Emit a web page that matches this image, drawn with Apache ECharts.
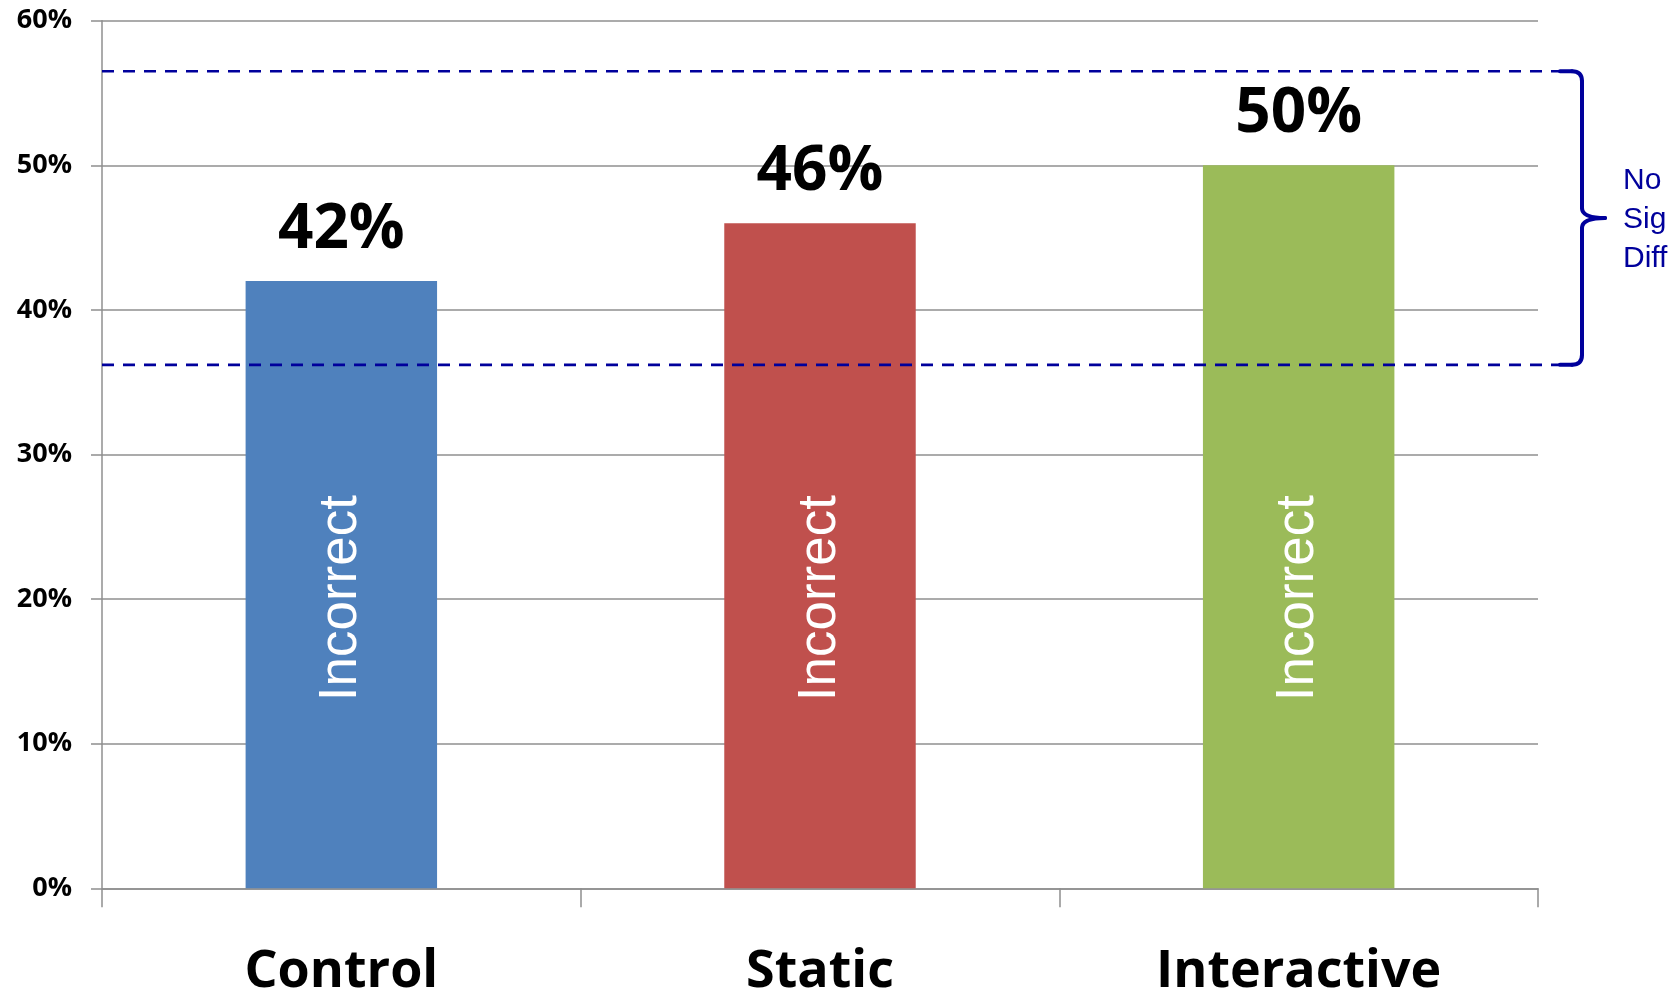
<!DOCTYPE html>
<html>
<head>
<meta charset="utf-8">
<script src="https://cdn.jsdelivr.net/npm/echarts@6/dist/echarts.min.js"></script>
<style>
  html, body { margin: 0; padding: 0; background: #ffffff; }
  #chart { width: 1678px; height: 994px; }
</style>
</head>
<body>
<div id="chart"></div>
<script>
// ---- data ----
const categories = ['Control', 'Static', 'Interactive'];
const values = [42, 46, 50];
const barText = 'Incorrect';
const sigRange = [36.2, 56.5];          // dashed band limits (%)
const sigText = ['No', 'Sig', 'Diff'];
const yMin = 0, yMax = 60, yStep = 10;

// ---- styles ----
const barColors = ['#4F81BD', '#C0504D', '#9BBB59'];
const gridColor = '#8f8f8f';
const annoColor = '#00009c';

const chart = echarts.init(document.getElementById('chart'), null, { renderer: 'canvas' });

const gridLeft = 102, gridRight = 140, gridTop = 20.7, gridBottom = 105.7;

chart.setOption({
  animation: false,
  backgroundColor: '#ffffff',
  grid: {
    left: gridLeft, right: gridRight, top: gridTop, bottom: gridBottom,
    containLabel: false,
    outerBoundsMode: 'none'
  },
  xAxis: {
    type: 'category',
    data: categories,
    axisLine: { lineStyle: { color: gridColor, width: 1.5 } },
    axisTick: { show: true, length: 19, lineStyle: { color: gridColor, width: 1.5 } },
    axisLabel: {
      margin: 58,
      fontFamily: 'Open Sans',
      fontWeight: 'bold',
      fontSize: 52,
      color: '#000000'
    }
  },
  yAxis: {
    type: 'value',
    min: yMin, max: yMax, interval: yStep,
    axisLine: { show: true, lineStyle: { color: gridColor, width: 1.5 } },
    axisTick: { show: true, length: 11, lineStyle: { color: gridColor, width: 1.5 } },
    splitLine: { show: true, lineStyle: { color: gridColor, width: 1.5 } },
    axisLabel: {
      margin: 30,
      formatter: '{value}%',
      fontFamily: 'Open Sans',
      fontWeight: 'bold',
      fontSize: 27,
      color: '#000000'
    }
  },
  series: [
    {
      type: 'bar',
      barWidth: '40%',
      data: values.map((v, i) => ({ value: v, itemStyle: { color: barColors[i] } })),
      label: {
        show: true,
        position: 'top',
        distance: 20,
        formatter: '{c}%',
        fontFamily: 'Open Sans',
        fontWeight: 'bold',
        fontSize: 62,
        color: '#000000'
      },
      z: 2
    },
    {
      type: 'bar',
      barWidth: '40%',
      barGap: '-100%',
      data: values,
      itemStyle: { color: 'rgba(0,0,0,0)' },
      label: {
        show: true,
        position: 'insideBottom',
        distance: 187,
        rotate: 90,
        align: 'left',
        verticalAlign: 'middle',
        formatter: barText,
        fontFamily: 'Liberation Sans',
        fontSize: 53,
        color: '#ffffff'
      },
      silent: true,
      z: 3
    }
  ]
});

// ---- annotation: dashed range lines, brace and text ----
const yTop = chart.convertToPixel({ yAxisIndex: 0 }, sigRange[1]);
const yBot = chart.convertToPixel({ yAxisIndex: 0 }, sigRange[0]);
const yMid = (yTop + yBot) / 2;
const xStart = gridLeft;
const xEnd = 1560;
const xV = 1582;
const xTip = 1605;
const r = 10;

const braceStyle = { stroke: annoColor, lineWidth: 4, fill: null, lineCap: 'round' };

chart.setOption({
  graphic: [
    {
      type: 'line', z: 10,
      shape: { x1: xStart, y1: yTop, x2: xEnd, y2: yTop },
      style: { stroke: annoColor, lineWidth: 2.6, lineDash: [12, 9] }
    },
    {
      type: 'line', z: 10,
      shape: { x1: xStart, y1: yBot, x2: xEnd, y2: yBot },
      style: { stroke: annoColor, lineWidth: 2.6, lineDash: [12, 9] }
    },
    // brace: top corner
    {
      type: 'polyline', z: 10,
      shape: { points: [[xEnd, yTop], [xV - r, yTop]] },
      style: braceStyle
    },
    {
      type: 'bezierCurve', z: 10,
      shape: { x1: xV - r, y1: yTop, cpx1: xV, cpy1: yTop, x2: xV, y2: yTop + r },
      style: braceStyle
    },
    {
      type: 'polyline', z: 10,
      shape: { points: [[xV, yTop + r], [xV, yMid - r]] },
      style: braceStyle
    },
    {
      type: 'bezierCurve', z: 10,
      shape: { x1: xV, y1: yMid - r, cpx1: xV, cpy1: yMid, x2: xTip, y2: yMid },
      style: braceStyle
    },
    {
      type: 'bezierCurve', z: 10,
      shape: { x1: xV, y1: yMid + r, cpx1: xV, cpy1: yMid, x2: xTip, y2: yMid },
      style: braceStyle
    },
    {
      type: 'polyline', z: 10,
      shape: { points: [[xV, yMid + r], [xV, yBot - r]] },
      style: braceStyle
    },
    {
      type: 'bezierCurve', z: 10,
      shape: { x1: xV, y1: yBot - r, cpx1: xV, cpy1: yBot, x2: xV - r, y2: yBot },
      style: braceStyle
    },
    {
      type: 'polyline', z: 10,
      shape: { points: [[xV - r, yBot], [xEnd, yBot]] },
      style: braceStyle
    },
    {
      type: 'text', z: 10,
      x: 1623, y: yMid + 2,
      style: {
        text: sigText.join('\n'),
        fontFamily: 'Liberation Sans',
        fontSize: 30,
        lineHeight: 39,
        fill: annoColor,
        align: 'left',
        verticalAlign: 'middle'
      }
    }
  ]
});
</script>
</body>
</html>
